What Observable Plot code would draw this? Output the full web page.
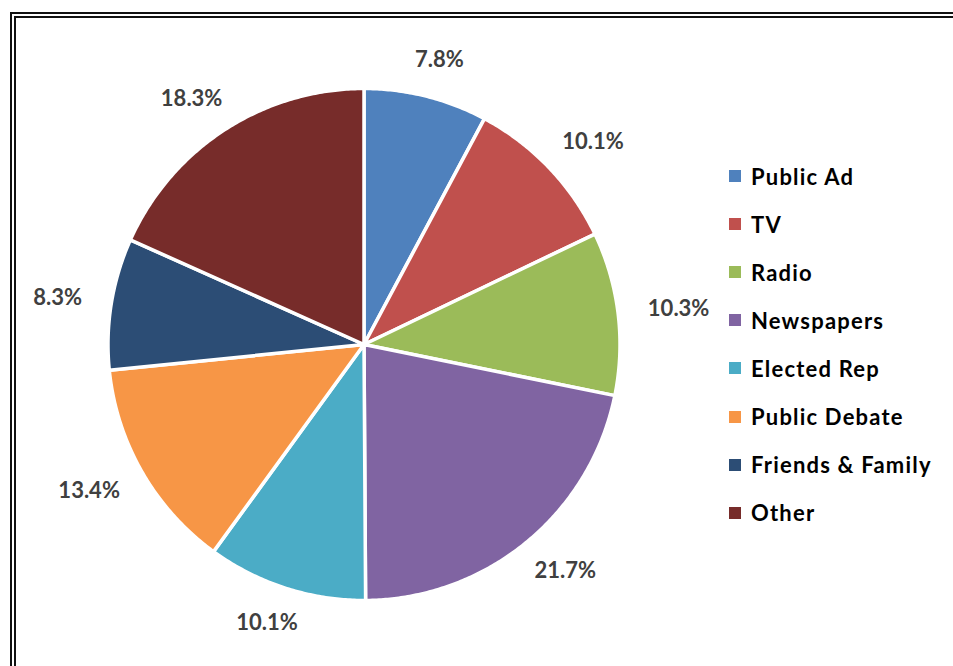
<!DOCTYPE html>
<html>
<head>
<meta charset="utf-8">
<script src="https://cdn.jsdelivr.net/npm/d3@7"></script>
<script src="https://cdn.jsdelivr.net/npm/@observablehq/plot@0.6"></script>
<style>
  html, body { margin: 0; padding: 0; background: #fff; overflow: hidden; }
  #wrap { position: relative; width: 953px; height: 666px; }
  #chart { position: absolute; left: 0; top: 0; }
  #frame { position: absolute; left: 10px; top: 12px; width: 960px; height: 680px;
           border: 6px double #111; pointer-events: none; box-sizing: border-box; }
  #legend { position: absolute; left: 729px; top: 152px; font-family: Lato, "Open Sans", sans-serif;
            font-weight: 700; font-size: 22px; color: #000; letter-spacing: 1.2px; }
  .row { display: flex; align-items: center; height: 48.1px; white-space: nowrap; }
  .sw { width: 12px; height: 12px; margin-right: 10px; flex: none; }
</style>
</head>
<body>
<div id="wrap">
  <div id="chart"></div>
  <div id="legend"></div>
  <div id="frame"></div>
</div>
<script>
const categories = ["Public Ad", "TV", "Radio", "Newspapers", "Elected Rep", "Public Debate", "Friends & Family", "Other"];
const shares = [7.8, 10.1, 10.3, 21.7, 10.1, 13.4, 8.3, 18.3];
const labels = ["7.8%", "10.1%", "10.3%", "21.7%", "10.1%", "13.4%", "8.3%", "18.3%"];
const colors = ["#4F81BD", "#C0504D", "#9BBB59", "#8064A2", "#4BACC6", "#F79646", "#2C4D75", "#772C2A"];

const W = 953, H = 666;
const R = 256;            // pixel radius of the pie
const cx = 363.5, cy = 344; // pixel centre of the pie

// Build slice outlines from the data using d3.pie (angles from 12 o'clock, clockwise)
const pie = d3.pie().sort(null).value(d => d.value)(categories.map((c, i) => ({name: c, value: shares[i], label: labels[i]})));

const slicePts = [];
for (const a of pie) {
  const name = a.data.name;
  slicePts.push({name, x: 0, y: 0});
  const n = Math.max(8, Math.ceil((a.endAngle - a.startAngle) / (Math.PI / 360)));
  for (let k = 0; k <= n; k++) {
    const t = a.startAngle + (a.endAngle - a.startAngle) * k / n;
    slicePts.push({name, x: Math.sin(t), y: Math.cos(t)});
  }
}

// Label positions: outside the pie along the mid angle, pushed out by label half-size
const gap = 28 / R;
const labelPts = pie.map(a => {
  const t = (a.startAngle + a.endAngle) / 2;
  const ux = Math.sin(t), uy = Math.cos(t);
  const hw = a.data.label.length * 6.6 / R, hh = 9 / R;
  return {
    label: a.data.label,
    x: (1 + gap) * ux + ux * hw,
    y: (1 + gap) * uy + uy * hh
  };
});

const chart = Plot.plot({
  width: W,
  height: H,
  margin: 0,
  style: {background: "transparent", overflow: "visible"},
  x: {domain: [-cx / R, (W - cx) / R], axis: null},
  y: {domain: [-(H - cy) / R, cy / R], axis: null},
  color: {domain: categories, range: colors},
  marks: [
    Plot.line(slicePts, {x: "x", y: "y", z: "name", fill: "name", stroke: "white", strokeWidth: 3.5, curve: "linear-closed", strokeLinejoin: "round"}),
    Plot.text(labelPts, {x: "x", y: "y", text: "label", fill: "#404040", fontSize: 22, fontWeight: 700, fontFamily: "Lato, 'Open Sans', sans-serif", letterSpacing: "1px"})
  ]
});
document.getElementById("chart").appendChild(chart);

const legend = document.getElementById("legend");
categories.forEach((c, i) => {
  const row = document.createElement("div");
  row.className = "row";
  const sw = document.createElement("span");
  sw.className = "sw";
  sw.style.background = colors[i];
  const tx = document.createElement("span");
  tx.textContent = c;
  row.appendChild(sw);
  row.appendChild(tx);
  legend.appendChild(row);
});
</script>
</body>
</html>
